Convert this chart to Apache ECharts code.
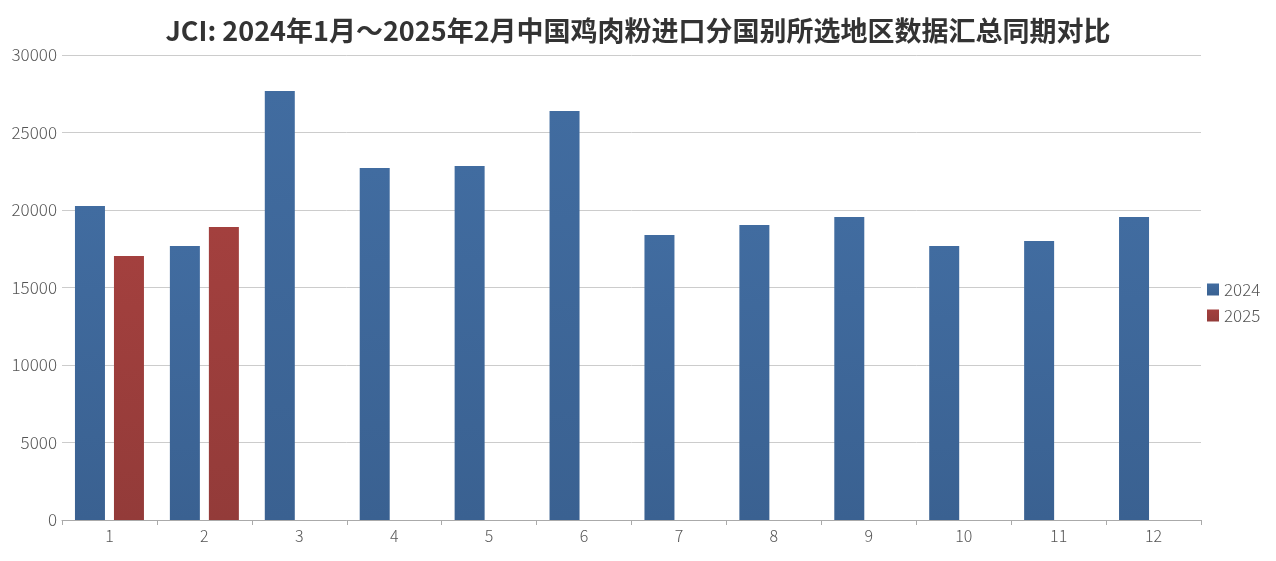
<!DOCTYPE html>
<html>
<head>
<meta charset="utf-8">
<script src="https://cdn.jsdelivr.net/npm/echarts@6/dist/echarts.min.js"></script>
<style>
  html, body { margin: 0; padding: 0; background: #fff; }
  #chart { width: 1276px; height: 561px; }
</style>
</head>
<body>
<div id="chart"></div>
<script>
// 月份
const months = ['1', '2', '3', '4', '5', '6', '7', '8', '9', '10', '11', '12']
// 2024年各月数据
const data2024 = [20260, 17680, 27680, 22710, 22840, 26390, 18390, 19030, 19550, 17680, 18000, 19550]
// 2025年各月数据（只有1、2月）
const data2025 = [17030, 18900, null, null, null, null, null, null, null, null, null, null]

const myChart = echarts.init(document.getElementById('chart'))
const font = '"Noto Sans CJK SC", "Noto Sans", sans-serif'
const option = {
  animation: false,
  backgroundColor: '#fff',
  title: {
    text: 'JCI: 2024年1月～2025年2月中国鸡肉粉进口分国别所选地区数据汇总同期对比',
    left: 'center',
    top: 12,
    textStyle: { fontFamily: font, fontSize: 27, fontWeight: 'bold', color: '#333' }
  },
  legend: {
    orient: 'vertical',
    left: 1202,
    top: 276,
    itemWidth: 12,
    itemHeight: 12,
    itemGap: 9,
    icon: 'rect',
    textStyle: { fontFamily: font, fontSize: 17, color: '#555', fontWeight: 300 },
    data: ['2024', '2025']
  },
  grid: { left: 62, right: 75, top: 55, bottom: 41 },
  xAxis: {
    type: 'category',
    data: months,
    axisLine: { lineStyle: { color: '#aaa' } },
    axisTick: { show: true, lineStyle: { color: '#aaa' } },
    axisLabel: { fontFamily: font, fontSize: 16, color: '#555', fontWeight: 300, margin: 8 }
  },
  yAxis: {
    type: 'value',
    min: 0,
    max: 30000,
    interval: 5000,
    axisLine: { show: false },
    axisTick: { show: false },
    axisLabel: {
      fontFamily: font, fontSize: 17, color: '#555', fontWeight: 300, margin: 5,
      formatter: (v) => String(v)
    },
    splitLine: { lineStyle: { color: '#ccc' } }
  },
  series: [
    {
      name: '2024',
      type: 'bar',
      barWidth: 30,
      barGap: '30%',
      data: data2024,
      itemStyle: {
        color: new echarts.graphic.LinearGradient(0, 0, 0, 1, [
          { offset: 0, color: '#416ca0' },
          { offset: 1, color: '#3a6191' }
        ])
      }
    },
    {
      name: '2025',
      type: 'bar',
      barWidth: 30,
      data: data2025,
      itemStyle: {
        color: new echarts.graphic.LinearGradient(0, 0, 0, 1, [
          { offset: 0, color: '#a3403e' },
          { offset: 1, color: '#933b39' }
        ])
      }
    }
  ]
}
myChart.setOption(option)
</script>
</body>
</html>
